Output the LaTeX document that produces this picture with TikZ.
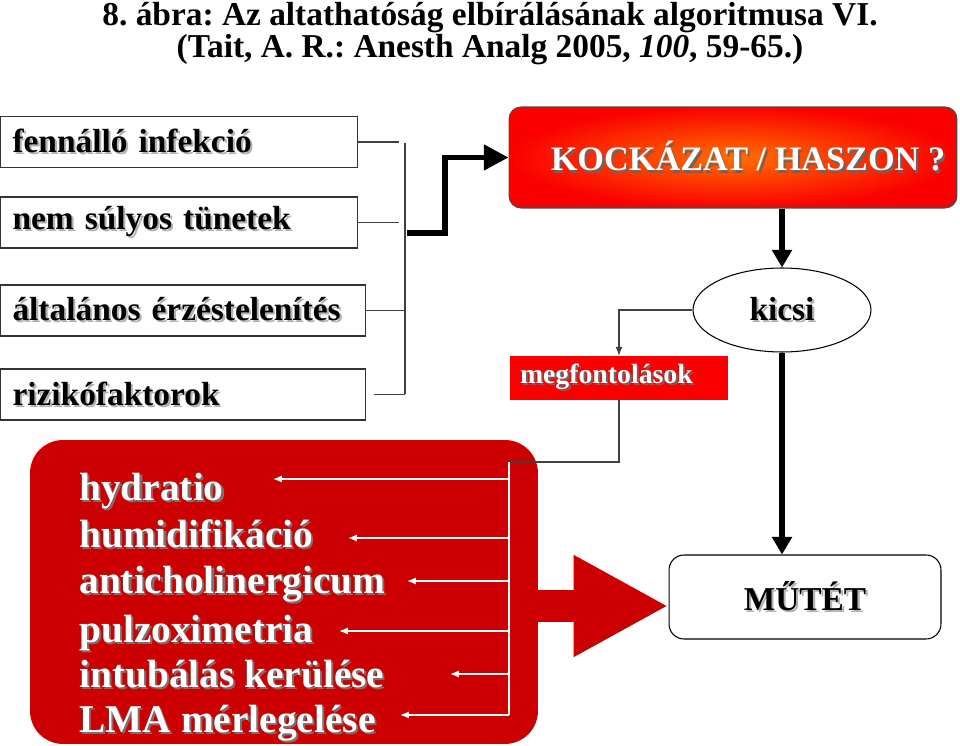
\documentclass[tikz,border=0pt]{standalone}
\usepackage{fontspec}
\setmainfont{Liberation Serif}
\usetikzlibrary{arrows.meta, shapes.geometric, positioning}
\definecolor{PanelRed}{RGB}{204,0,0}
\definecolor{BoxRed}{RGB}{250,0,0}
\definecolor{HotOrange}{RGB}{255,112,0}
\newcommand{\shadowed}[2]{\makebox[0pt][l]{\hspace{1.2pt}\raisebox{-1.2pt}{\textcolor{#1}{#2}}}#2}
\frenchspacing

\begin{document}
\begin{tikzpicture}[x=0.02cm, y=-0.02cm,
	nagy/.style={font=\fontsize{19}{22}\selectfont\bfseries},
	doboz/.style={nagy, rectangle, draw=black!80, line width=0.6pt, anchor=west, inner xsep=0.24cm, minimum height=1.02cm, align=left},
	vonal/.style={draw=black!75, line width=0.6pt},
	vastag/.style={line width=3.2pt, -{Triangle[length=10pt,width=11pt]}},
	tetel/.style={font=\fontsize{22.4}{26}\selectfont\bfseries, text=white, anchor=base west, inner sep=0pt},
	fehernyil/.style={white, line width=0.8pt, -{Latex[length=5pt,width=4pt]}}]
	\useasboundingbox (0,0) rectangle (960,746);
	% cim
	\node[nagy, anchor=base] (cim1) at (490,26) {8. ábra: Az altathatóság elbírálásának algoritmusa VI.};
	\node[nagy, anchor=base] (cim2) at (490,58) {(Tait, A. R.: Anesth Analg 2005, \textit{100}, 59-65.)};
	% bal oldali dobozok
	\node[doboz, text width=6.66cm] (b1) at (0,142) {\shadowed{black!30}{fennálló infekció}};
	\node[doboz, text width=6.66cm] (b2) at (0,222.5) {\shadowed{black!30}{nem súlyos tünetek}};
	\node[doboz, text width=6.82cm] (b3) at (0,310.5) {\shadowed{black!30}{általános érzéstelenítés}};
	\node[doboz, text width=6.82cm] (b4) at (0,394.5) {\shadowed{black!30}{rizikófaktorok}};
	\coordinate (sinfel) at (405,143);
	\coordinate (sinle) at (405,394);
	\draw[vonal] (sinfel) -- (sinle);
	\draw[vonal] (b1.east) -- ++(41,0);
	\draw[vonal] (b2.east) -- ++(41,0);
	\draw[vonal] (b3.east) -- (b3.east -| sinfel);
	\draw[vonal] ([xshift=0.16cm]b4.east) -- (b4.east -| sinfel);
	% dontes
	\node[font=\fontsize{19.5}{22}\selectfont\bfseries, rectangle, rounded corners=0.24cm, draw=black!70, line width=0.6pt, inner color=HotOrange, outer color=BoxRed,
		minimum width=8.96cm, minimum height=2.02cm, text=white] (kh) at (733,157.5) {\hspace*{0.6cm}\shadowed{black!60}{KOCKÁZAT / HASZON ?}};
	\coordinate (kapcs) at (407,233);
	\draw[vastag, -{Triangle[length=14pt,width=14pt]}] (kapcs) -- ++(38,0) |- (kh.west);
	\node[nagy, ellipse, draw, line width=0.6pt, minimum width=3.56cm, minimum height=1.68cm, inner sep=0pt] (ki) at (782,310) {\shadowed{black!30}{kicsi}};
	\draw[vastag] (kh.south -| ki.north) -- (ki.north);
	\node[font=\fontsize{15.8}{18}\selectfont\bfseries, fill=BoxRed, text=white, minimum height=0.88cm, text width=3.96cm,
		inner xsep=0.2cm, align=left] (megf) at (619,378) {\shadowed{black!60}{megfontolások}};
	\draw[vonal, -{Latex[length=5pt,width=4pt]}] (ki.west) -| (megf.north);
	% teendok
	\node[fill=PanelRed, rounded corners=0.66cm, minimum width=10.16cm, minimum height=6.08cm, inner sep=0pt] (panel) at (284,592) {};
	\coordinate (busz) at (509,462);
	\coordinate (buszalj) at (509,715);
	\draw[vonal] (megf.south) |- (busz);
	\draw[white, line width=0.8pt] (busz) -- (buszalj);
	\foreach \nev/\szov/\yb/\ya/\xa in {t1/hydratio/500/479/273, t2/humidifikáció/547/538/348,
		t3/anticholinergicum/593/581/407, t4/pulzoximetria/642/631/339,
		t5/intubálás kerülése/687/674/450, t6/LMA mérlegelése/732/715/400}{
		\node[tetel] (\nev) at (79,\yb) {\shadowed{black!55}{\szov}};
		\coordinate (\nev-hegy) at (\xa,\ya);
		\draw[fehernyil] (\nev-hegy -| busz) -- (\nev-hegy);
	}
	% mutet
	\node[nagy, rectangle, rounded corners=0.3cm, draw, line width=0.6pt, minimum width=5.44cm, minimum height=1.68cm] (mu) at (805,597) {\shadowed{black!30}{MŰTÉT}};
	\draw[vastag] (ki.south) -- (ki.south |- mu.north);
	\coordinate (cel) at ([yshift=-0.18cm]mu.west);
	\draw[PanelRed, line width=18.2pt, -{Triangle[length=54pt,width=54pt]}] (panel.east |- cel) -- (cel);
\end{tikzpicture}
\end{document}
